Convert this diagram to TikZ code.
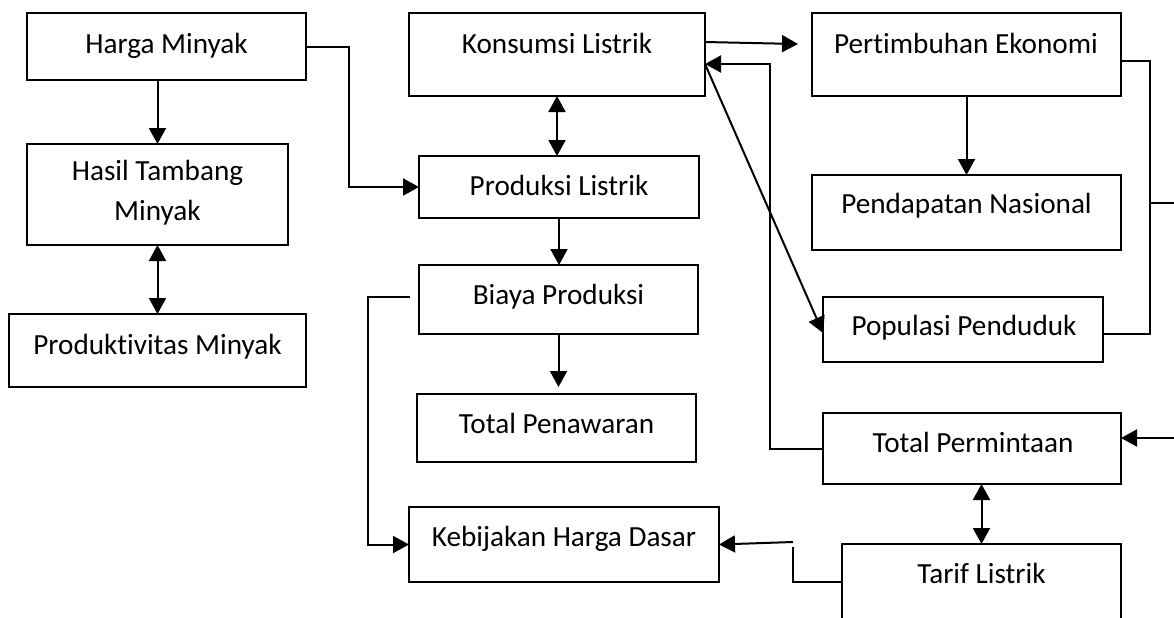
\documentclass[tikz,border=0pt]{standalone}
\usepackage{fontspec}
\setmainfont{Carlito}[Ligatures={NoCommon}, RawFeature={-liga;-clig;-calt;-dlig}]
\usetikzlibrary{arrows.meta}
\newcommand\mkbox[5]{\node[box, minimum width={(#4-#2)*0.5pt}, minimum height={(#5-#3)*0.5pt}] (#1) at ({(#2+#4)/2},{(#3+#5)/2}) {};}
\begin{document}
\begin{tikzpicture}[x=0.5pt,y=-0.5pt,
  box/.style={draw, line width=1pt, inner sep=0pt, outer sep=0pt},
  txt/.style={font=\fontsize{14.6}{20}\selectfont, align=center, inner sep=0pt, anchor=base},
  conn/.style={line width=1pt},
  arr/.style={conn, -{Triangle[length=8pt,width=8.5pt]}},
  arrb/.style={conn, {Triangle[length=8pt,width=8.5pt]}-{Triangle[length=8pt,width=8.5pt]}},
  thinl/.style={line width=0.8pt}]
\clip (0,0) rectangle (1174,617);
\fill[white] (0,0) rectangle (1174,617);

% boxes
\mkbox{harga}{27}{13}{306}{80}
\mkbox{hasil}{27}{144}{288}{245}
\mkbox{prodm}{9}{314}{306}{387}
\mkbox{kons}{409}{13}{705}{96}
\mkbox{produksi}{419}{156}{699}{218}
\mkbox{biaya}{419}{265}{698}{334}
\mkbox{penaw}{417}{394}{696}{462}
\mkbox{kebij}{409}{507}{719}{582}
\mkbox{pert}{812}{13}{1121}{96}
\mkbox{pend}{812}{175}{1121}{250}
\mkbox{pop}{823}{297}{1103}{362}
\mkbox{perm}{823}{413}{1121}{484}
\mkbox{tarif}{842}{544}{1121}{620}

% texts
\node[txt] (hargaT) at (166.5,53) {Harga Minyak};
\node[txt, anchor=center] (hasilT) at (157.5,193) {Hasil Tambang\\Minyak};
\node[txt] (prodmT) at (157.5,354) {Produktivitas Minyak};
\node[txt] (konsT) at (557,53) {Konsumsi Listrik};
\node[txt] (produksiT) at (559,195) {Produksi Listrik};
\node[txt] (biayaT) at (558.5,304) {Biaya Produksi};
\node[txt] (penawT) at (556.5,433) {Total Penawaran};
\node[txt] (kebijT) at (564,546) {Kebijakan Harga Dasar};
\node[txt] (pertT) at (966,53) {Pertimbuhan Ekonomi};
\node[txt] (pendT) at (966.5,213) {Pendapatan Nasional};
\node[txt] (popT) at (964,335) {Populasi Penduduk};
\node[txt] (permT) at (973,452) {Total Permintaan};
\node[txt] (tarifT) at (981.5,583) {Tarif Listrik};

% free-end coordinates
\coordinate (edgeA) at (1180,203);
\coordinate (edgeB) at (1180,438);
\coordinate (tk) at (793,542);

% connectors
\draw[arr] (hasil.north |- harga.south) -- (hasil.north);
\draw[arrb] (hasil.south) -- (hasil.south |- prodm.north);
\draw[arr] (harga.east) -- ++(43,0) |- (produksi.west);
\draw[arrb] (kons.south) -- (kons.south |- produksi.north);
\draw[arr] (produksi.south) -- (produksi.south |- biaya.north);
\draw[arr] (biaya.south) -- ([yshift=3.5pt]biaya.south |- penaw.north);
\draw[arr] ([xshift=-4.5pt, yshift=1.25pt]biaya.west) -- ++(-42,0) |- (kebij.west);
\draw[arr] ([yshift=6.25pt]kons.east) -- ([xshift=-7pt, yshift=5.25pt]pert.west);
\draw[arr] (perm.west) -- ++(-53,0) |- ([yshift=-4.75pt]kons.east);
\draw[arr] ([yshift=-4.75pt]kons.east) -- ([yshift=-1.75pt]pop.west);
\draw[thinl] ([yshift=-3.25pt]pert.east) -- ++(29,0) coordinate (bk) |- ([yshift=-2.25pt]pop.east);
\draw[thinl] (bk |- edgeA) -- (edgeA);
\draw[arr] (edgeB) -- (perm.east |- edgeB);
\draw[arr] (pert.south) -- (pert.south |- pend.north);
\draw[arrb] (tarif.north |- perm.south) -- (tarif.north);
\draw[thinl] (tarif.west) -| ([yshift=-2.5pt]tk);
\draw[arr] (tk) -- (kebij.east);
\end{tikzpicture}
\end{document}
